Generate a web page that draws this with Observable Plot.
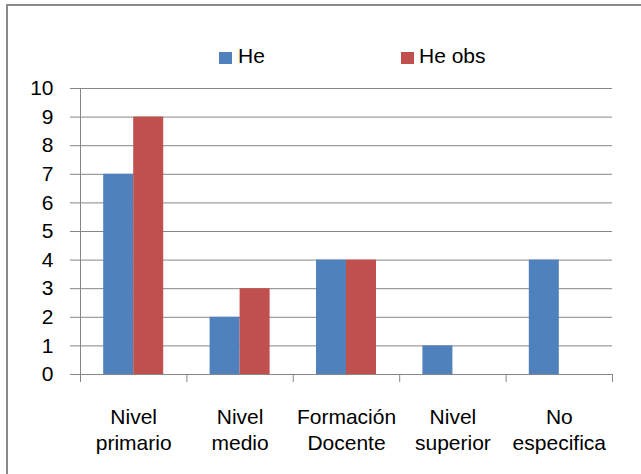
<!DOCTYPE html>
<html>
<head>
<meta charset="utf-8">
<script src="https://cdn.jsdelivr.net/npm/d3@7"></script>
<script src="https://cdn.jsdelivr.net/npm/@observablehq/plot@0.6"></script>
<style>
  html, body { margin: 0; padding: 0; background: #fff; }
  #wrap { position: relative; width: 641px; height: 474px; overflow: hidden; font-family: "Liberation Sans", Arial, sans-serif; }
  #border { position: absolute; left: 6px; top: 4px; width: 700px; height: 600px; border: 2px solid #8a8a8a; box-sizing: border-box; }
  #chart { position: absolute; left: 0; top: 0; }
  .sw { position: absolute; width: 13px; height: 12px; }
  .lt { position: absolute; font-size: 21px; line-height: 24px; color: #000; white-space: pre; }
</style>
</head>
<body>
<div id="wrap">
  <div id="border"></div>
  <div id="chart"></div>
</div>
<script>
const categories = ["Nivel\nprimario", "Nivel\nmedio", "Formación\nDocente", "Nivel\nsuperior", "No\nespecifica"];
const seriesNames = ["He", "He obs"];
const heValues = [7, 2, 4, 1, 4];
const heObsValues = [9, 3, 4, 0, 0];
const yTicks = [0, 1, 2, 3, 4, 5, 6, 7, 8, 9, 10];
const colors = ["#4F81BD", "#C0504D"];

const barHalf = 0.282; // fraction of category band per bar
const rows = [];
categories.forEach((c, i) => {
  rows.push({i, cat: c, series: seriesNames[0], value: heValues[i], x1: i - barHalf, x2: i});
  rows.push({i, cat: c, series: seriesNames[1], value: heObsValues[i], x1: i, x2: i + barHalf});
});
const bounds = d3.range(categories.length + 1).map(k => k - 0.5);
const gray = "#868686";

const chart = Plot.plot({
  width: 641,
  height: 474,
  marginLeft: 80,
  marginRight: 29,
  marginTop: 88,
  marginBottom: 100,
  style: {fontFamily: '"Liberation Sans", Arial, sans-serif', fontSize: "21px", color: "#000", background: "transparent"},
  x: {domain: [-0.5, categories.length - 0.5], axis: null},
  y: {domain: [0, 10], axis: null},
  color: {domain: seriesNames, range: colors},
  marks: [
    Plot.gridY(yTicks, {stroke: gray, strokeOpacity: 1, strokeWidth: 1}),
    Plot.axisY(yTicks, {label: null, tickSize: 10, tickPadding: 17, stroke: gray, strokeOpacity: 1, fontSize: 21, fill: "#000"}),
    Plot.ruleX([-0.5], {y1: 0, y2: 10, stroke: gray}),
    Plot.rectY(rows.filter(d => d.value > 0), {x1: "x1", x2: "x2", y: "value", fill: "series"}),
    Plot.axisX(bounds, {label: null, tickSize: 8, stroke: gray, strokeOpacity: 1, tickFormat: () => ""}),
    Plot.ruleY([0], {stroke: gray}),
    Plot.text(categories, {x: (d, i) => i, y: () => 0, text: d => d, dy: 54, lineHeight: 1.24, fontSize: 21, fill: "#000", textAnchor: "middle"})
  ]
});
document.getElementById("chart").appendChild(chart);

// legend
const wrap = document.getElementById("wrap");
const legendPos = [{sx: 219, tx: 238}, {sx: 401, tx: 419}];
seriesNames.forEach((name, k) => {
  const sw = document.createElement("div");
  sw.className = "sw";
  sw.style.left = legendPos[k].sx + "px";
  sw.style.top = "52px";
  sw.style.background = colors[k];
  wrap.appendChild(sw);
  const t = document.createElement("div");
  t.className = "lt";
  t.style.left = legendPos[k].tx + "px";
  t.style.top = "44px";
  t.textContent = name;
  wrap.appendChild(t);
});
</script>
</body>
</html>
